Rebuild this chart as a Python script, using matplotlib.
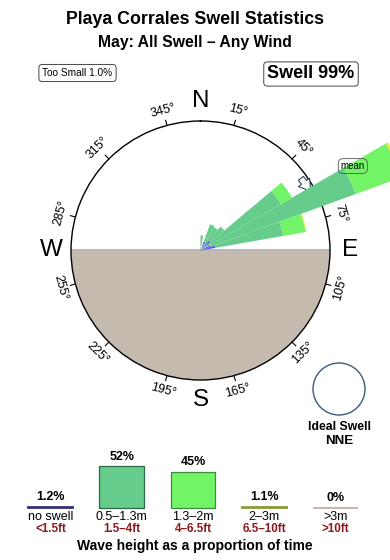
import numpy as np
import matplotlib
matplotlib.use("Agg")
import matplotlib.pyplot as plt
from matplotlib.patches import Circle

plt.rcParams['font.family'] = ['Liberation Sans', 'DejaVu Sans']

# swell rose, % of time per 10 degree direction bin (bin centres)
dir_centres = [5, 15, 25, 35, 45, 55, 65, 75]
pct_no_swell = [0, 0, 1.9, 0, 2.5, 0, 2.0, 2.9]
pct_05_13 = [2.9, 0, 3.5, 5.2, 3.5, 17.9, 29.9, 13.3]
pct_13_20 = [0, 0, 0, 0, 0, 2.5, 9.4, 4.4]
pct_20_30 = [0, 0, 0, 0, 0, 0, 0.5, 0.2]
rose_max = 25
mean_dir = 58

tick_degs = [15, 45, 75, 105, 135, 165, 195, 225, 255, 285, 315, 345]
compass = {'N': 0, 'E': 90, 'S': 180, 'W': 270}

# legend below
legend_classes = ['no swell', '0.5\u20131.3m', '1.3\u20132m', '2\u20133m', '>3m']
legend_feet = ['<1.5ft', '1.5\u20134ft', '4\u20136.5ft', '6.5\u201310ft', '>10ft']
legend_pct = [1.2, 52, 45, 1.1, 0]
legend_text = ['1.2%', '52%', '45%', '1.1%', '0%']

c_blue = '#6655EE'
c_dark = '#66CC8C'
c_light = '#72F466'
c_yellow = '#E6E83C'
c_land = '#C4BAAE'

W, H = 390, 560
fig = plt.figure(figsize=(W / 100, H / 100), dpi=100)

# ---- rose
cx, cy, R = 200.5, 250.5, 129.5
ax = fig.add_axes([(cx - R) / W, (H - cy - R) / H, 2 * R / W, 2 * R / H], projection='polar')
ax.set_theta_zero_location('N')
ax.set_theta_direction(-1)
ax.set_ylim(0, rose_max)
ax.set_xticks([])
ax.set_yticks([])
ax.grid(False)
ax.spines['polar'].set_linewidth(1.0)

# land (south half)
ax.bar(np.pi, rose_max, width=np.pi, bottom=0, color=c_land, linewidth=0, zorder=1)
for t in (np.pi / 2, 3 * np.pi / 2):
    ax.plot([t, t], [0, rose_max], color='#B9B9B9', lw=1.5, zorder=2)

th = np.deg2rad(dir_centres)
wd = np.deg2rad(10)
bottom = np.zeros(len(th))
for vals, col in [(pct_no_swell, c_blue), (pct_05_13, c_dark),
                  (pct_13_20, c_light), (pct_20_30, c_yellow)]:
    vals = np.array(vals)
    ax.bar(th, vals, width=wd, bottom=bottom, color=col, linewidth=0,
           zorder=4, clip_on=False)
    bottom += vals

# mean arrow + label
ax.annotate('', xy=(np.deg2rad(mean_dir + 5), rose_max * 0.97),
            xytext=(np.deg2rad(mean_dir - 5), rose_max * 0.955),
            arrowprops=dict(arrowstyle='simple,head_width=1.0,head_length=0.8,tail_width=0.45',
                            fc='white', ec='#2F4858', lw=0.8),
            annotation_clip=False, zorder=3)
ax.text(np.deg2rad(mean_dir + 3), rose_max * 1.345, 'mean', fontsize=7,
        ha='center', va='center', clip_on=False, zorder=6,
        bbox=dict(boxstyle='round,pad=0.25,rounding_size=0.5', fc='none', ec='#555555', lw=0.6))

# ticks and degree labels
for d in tick_degs:
    t = np.deg2rad(d)
    ax.plot([t, t], [rose_max, rose_max * 1.04], color='k', lw=0.8, clip_on=False)
    rot = -d if (d < 90 or d > 270) else 180 - d
    ax.text(t, rose_max * 1.12, f'{d}\u00b0', fontsize=9, rotation=rot,
            rotation_mode='anchor', ha='center', va='center', clip_on=False)

for lab, d in compass.items():
    ax.text(np.deg2rad(d), rose_max * 1.155, lab, fontsize=17.5,
            ha='center', va='center', clip_on=False)

# ---- overlay for texts
ov = fig.add_axes([0, 0, 1, 1])
ov.set_xlim(0, W)
ov.set_ylim(H, 0)
ov.axis('off')

ov.text(195, 20, 'Playa Corrales Swell Statistics', fontsize=12.8,
        fontweight='bold', ha='center', va='center')
ov.text(195, 42, 'May: All Swell \u2013 Any Wind', fontsize=11.3,
        fontweight='bold', ha='center', va='center')
ov.text(77.5, 73, 'Too Small 1.0%', fontsize=7.3, ha='center', va='center',
        bbox=dict(boxstyle='round,pad=0.35', fc='white', ec='#444444', lw=0.7))
ov.text(311, 74, 'Swell 99%', fontsize=13, fontweight='bold', ha='center', va='center',
        bbox=dict(boxstyle='round,pad=0.2', fc='white', ec='#444444', lw=0.7))

ov.add_patch(Circle((339, 389), 26, fill=False, ec='#3D5A80', lw=1.0))
ov.text(339, 427, 'Ideal Swell', fontsize=8.8, fontweight='bold', ha='center', va='center')
ov.text(339, 441, 'NNE', fontsize=9.6, fontweight='bold', ha='center', va='center')

ov.text(195, 546, 'Wave height as a proportion of time', fontsize=10,
        fontweight='bold', ha='center', va='center')

# ---- height legend
unit = 0.8
slot = 71.25
base = 508
x0 = 50.5 - slot / 2
lg = fig.add_axes([x0 / W, (H - base) / H, 5 * slot / W, 60 * unit / H])
lg.set_xlim(-0.5, 4.5)
lg.set_ylim(0, 60)
lg.axis('off')
face = ['#333377', c_dark, c_light, '#8A9A3A', '#C8ACA8']
edge = ['#333377', '#2E6A46', '#3E8A3E', '#8A9A3A', '#C8ACA8']
lws = [1.3, 0.9, 0.9, 1.3, 1.3]
pos = np.arange(len(legend_pct))
lg.bar(pos, legend_pct, width=0.63, color=face, edgecolor=edge, linewidth=lws, clip_on=False)
for i, v in enumerate(legend_pct):
    lg.annotate(legend_text[i], (i, v), xytext=(0, 7), textcoords='offset points',
                ha='center', va='center', fontsize=9, fontweight='bold', annotation_clip=False)
    lg.annotate(legend_classes[i], (i, 0), xytext=(0, -6.8), textcoords='offset points',
                ha='center', va='center', fontsize=9, annotation_clip=False)
    lg.annotate(legend_feet[i], (i, 0), xytext=(0, -15.4), textcoords='offset points',
                ha='center', va='center', fontsize=8.4, fontweight='bold',
                color='#8B1A1A', annotation_clip=False)

fig.savefig('out.png', dpi=100)
